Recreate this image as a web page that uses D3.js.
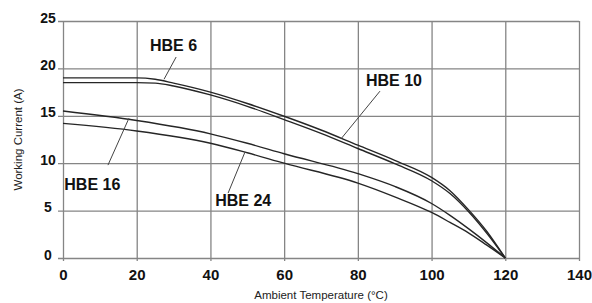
<!DOCTYPE html>
<html>
<head>
<meta charset="utf-8">
<script src="https://cdn.jsdelivr.net/npm/d3@7"></script>
<style>
  body { margin: 0; background: #fff; }
  svg { display: block; font-family: Arial, "Liberation Sans", sans-serif; }
</style>
</head>
<body>
<div id="chart"></div>
<script>
/**
 * CONSTANTS AND GLOBALS
 * */
const width = 592,
  height = 303,
  margin = { top: 21, right: 13, bottom: 45, left: 63 };

// chart data: [temperature °C, current A]
const xTicks = [0, 20, 40, 60, 80, 100, 120, 140];
const yTicks = [0, 5, 10, 15, 20, 25];

const hbe6 = [[0, 19.0], [10, 19.0], [20, 19.0], [25, 18.85], [30, 18.45], [40, 17.5], [50, 16.3],
  [60, 14.95], [70, 13.5], [80, 11.9], [90, 10.3], [100, 8.5], [105, 7.1], [110, 5.1], [115, 2.8], [120, 0]];
const hbe10 = [[0, 18.5], [10, 18.5], [20, 18.5], [25, 18.45], [30, 18.15], [40, 17.2], [50, 16.0],
  [60, 14.6], [70, 13.15], [80, 11.55], [90, 9.95], [100, 8.15], [105, 6.8], [110, 4.9], [115, 2.6], [120, 0]];
const hbe16 = [[0, 15.5], [20, 14.5], [40, 13.1], [50, 12.1], [60, 11.0], [80, 8.9], [90, 7.55],
  [100, 5.75], [105, 4.5], [110, 3.1], [115, 1.6], [120, 0]];
const hbe24 = [[0, 14.2], [20, 13.4], [40, 12.1], [50, 11.1], [60, 10.0], [80, 7.9], [90, 6.45],
  [100, 4.8], [105, 3.75], [110, 2.65], [115, 1.35], [120, 0]];

const seriesNames = ["HBE 6", "HBE 10", "HBE 16", "HBE 24"];
const seriesValues = [hbe6, hbe10, hbe16, hbe24];

// label anchor (text start) and leader line ends, in data units
const labelPos = [[23.6, 21.8], [82.2, 18.1], [0.35, 7.16], [41.3, 5.47]];
const leaderFrom = [[30.7, 21.2], [86.0, 17.6], [17.9, 14.75], [49.4, 11.2]];
const leaderTo = [[27.4, 18.85], [75.5, 12.6], [12.2, 9.8], [44.8, 6.85]];

const xTitle = "Ambient Temperature (°C)";
const yTitle = "Working Current (A)";

let svg, x, y;

init();

function init() {
  svg = d3.select("#chart")
    .append("svg")
    .attr("width", width)
    .attr("height", height);

  x = d3.scaleLinear().domain([0, 140]).range([margin.left, width - margin.right]);
  y = d3.scaleLinear().domain([0, 25]).range([height - margin.bottom, margin.top]);

  drawGrid();
  drawAxes();
  drawLines();
  drawLabels();
}

function drawGrid() {
  const plotW = x(140) - x(0);
  const plotH = y(0) - y(25);

  // horizontal grid, sticking out 5px on the left
  svg.append("g")
    .attr("class", "grid")
    .attr("transform", `translate(${x(0) - 5},0)`)
    .call(d3.axisLeft(y).tickValues(yTicks).tickSize(-(plotW + 5)).tickFormat(""));

  // vertical grid, sticking out 3px at the bottom
  svg.append("g")
    .attr("class", "grid")
    .attr("transform", `translate(0,${y(0) + 3})`)
    .call(d3.axisBottom(x).tickValues(xTicks).tickSize(-(plotH + 3)).tickFormat(""));

  svg.selectAll(".grid .domain").remove();
  svg.selectAll(".grid line")
    .attr("stroke", "#858585")
    .attr("stroke-width", 1.3);
}

function drawAxes() {
  const yAxis = svg.append("g")
    .attr("transform", `translate(${x(0)},0)`)
    .call(d3.axisLeft(y).tickValues(yTicks).tickSize(0));
  yAxis.select(".domain").remove();
  yAxis.selectAll("text")
    .attr("x", -15)
    .attr("y", 1)
    .attr("dy", null)
    .attr("text-anchor", "middle")
    .attr("fill", "#111")
    .style("font-size", "14px")
    .style("font-weight", "bold");

  const xAxis = svg.append("g")
    .attr("transform", `translate(0,${y(0)})`)
    .call(d3.axisBottom(x).tickValues(xTicks).tickSize(0));
  xAxis.select(".domain").remove();
  xAxis.selectAll("text")
    .attr("y", 22)
    .attr("dy", null)
    .attr("fill", "#111")
    .style("font-size", "15px")
    .style("font-weight", "bold");

  svg.append("text")
    .attr("x", 321)
    .attr("y", 299)
    .attr("text-anchor", "middle")
    .attr("fill", "#222")
    .style("font-size", "11.5px")
    .text(xTitle);

  svg.append("text")
    .attr("transform", `translate(22,${(y(0) + y(25)) / 2}) rotate(-90)`)
    .attr("text-anchor", "middle")
    .attr("fill", "#222")
    .style("font-size", "11.5px")
    .text(yTitle);
}

function drawLines() {
  const line = d3.line()
    .x(d => x(d[0]))
    .y(d => y(d[1]))
    .curve(d3.curveMonotoneX);

  svg.selectAll(".curve")
    .data(seriesValues)
    .join("path")
    .attr("class", "curve")
    .attr("d", line)
    .attr("fill", "none")
    .attr("stroke", "#262626")
    .attr("stroke-width", 1.4);
}

function drawLabels() {
  svg.selectAll(".leader")
    .data(seriesNames)
    .join("line")
    .attr("class", "leader")
    .attr("x1", (d, i) => x(leaderFrom[i][0]))
    .attr("y1", (d, i) => y(leaderFrom[i][1]))
    .attr("x2", (d, i) => x(leaderTo[i][0]))
    .attr("y2", (d, i) => y(leaderTo[i][1]))
    .attr("stroke", "#444")
    .attr("stroke-width", 1);

  svg.selectAll(".label")
    .data(seriesNames)
    .join("text")
    .attr("class", "label")
    .attr("x", (d, i) => x(labelPos[i][0]))
    .attr("y", (d, i) => y(labelPos[i][1]))
    .attr("fill", "#111")
    .style("font-size", "16px")
    .style("font-weight", "bold")
    .text(d => d);
}
</script>
</body>
</html>
